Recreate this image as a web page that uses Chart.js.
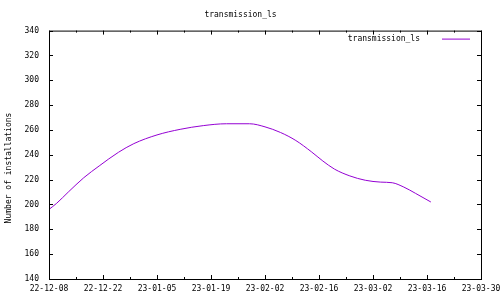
<!DOCTYPE html>
<html>
<head>
<meta charset="utf-8">
<script src="https://cdn.jsdelivr.net/npm/chart.js@4"></script>
<style>
  html, body { margin: 0; padding: 0; background: #fff; }
  #wrap { width: 500px; height: 300px; }
</style>
</head>
<body>
<div id="wrap"><canvas id="chart" width="500" height="300"></canvas></div>
<script>
// data
const dates = [
  "2022-12-08", "2022-12-10", "2022-12-13", "2022-12-17", "2022-12-21",
  "2022-12-26", "2022-12-30", "2023-01-05", "2023-01-11", "2023-01-17",
  "2023-01-23", "2023-01-29", "2023-02-02", "2023-02-06", "2023-02-10",
  "2023-02-14", "2023-02-17", "2023-02-20", "2023-02-24", "2023-02-28",
  "2023-03-04", "2023-03-07", "2023-03-10", "2023-03-13", "2023-03-17"
];
const installs = [
  196, 201, 210, 221.5, 231,
  242, 249, 256, 260.5, 263.5,
  265, 265, 262.5, 258, 251.5,
  242.5, 235, 228.5, 223, 219.5,
  218, 217.5, 214, 209, 202
];
const xTickLabels = [
  "22-12-08", "22-12-22", "23-01-05", "23-01-19", "23-02-02",
  "23-02-16", "23-03-02", "23-03-16", "23-03-30"
];
const yTicks = [140, 160, 180, 200, 220, 240, 260, 280, 300, 320, 340];

const seriesName = "transmission_ls";
const FONT = "'DejaVu Sans Mono', monospace";

const start = Date.UTC(2022, 11, 8);
function dayOf(s) {
  const p = s.split("-");
  return (Date.UTC(+p[0], +p[1] - 1, +p[2]) - start) / 86400000;
}

const points = dates.map((d, i) => ({ x: dayOf(d), y: installs[i] }));

// gnuplot style frame, inward ticks, legend and y label
const gnuplotBits = {
  id: "gnuplotBits",
  afterDraw(chart) {
    const ctx = chart.ctx;
    const a = chart.chartArea;
    const xs = chart.scales.x;
    const ys = chart.scales.y;
    ctx.save();
    ctx.strokeStyle = "#000";
    ctx.lineWidth = 1;
    ctx.strokeRect(a.left + 0.5, a.top + 0.5, a.right - a.left, a.bottom - a.top);

    ctx.beginPath();
    for (let d = 0; d <= 112; d += 7) {
      const px = Math.round(xs.getPixelForValue(d)) + 0.5;
      const len = d % 14 === 0 ? 4 : 2;
      ctx.moveTo(px, a.bottom);
      ctx.lineTo(px, a.bottom - len);
      ctx.moveTo(px, a.top);
      ctx.lineTo(px, a.top + len);
    }
    yTicks.forEach(v => {
      const py = Math.round(ys.getPixelForValue(v)) + 0.5;
      ctx.moveTo(a.left, py);
      ctx.lineTo(a.left + 4, py);
      ctx.moveTo(a.right, py);
      ctx.lineTo(a.right - 4, py);
    });
    ctx.stroke();

    // legend
    ctx.font = "8px " + FONT;
    ctx.fillStyle = "#000";
    ctx.textAlign = "right";
    ctx.textBaseline = "middle";
    ctx.fillText(chart.data.datasets[0].label, a.right - 61, a.top + 8);
    ctx.strokeStyle = "#9400d3";
    ctx.beginPath();
    ctx.moveTo(a.right - 39, a.top + 8.5);
    ctx.lineTo(a.right - 11, a.top + 8.5);
    ctx.stroke();

    // y axis title
    ctx.fillStyle = "#000";
    ctx.translate(9, 168);
    ctx.rotate(-Math.PI / 2);
    ctx.textAlign = "center";
    ctx.fillText("Number of installations", 0, 0);
    ctx.restore();
  }
};

new Chart(document.getElementById("chart"), {
  type: "line",
  data: {
    datasets: [{
      label: seriesName,
      data: points,
      borderColor: "#9400d3",
      borderWidth: 1,
      pointRadius: 0,
      fill: false,
      cubicInterpolationMode: "monotone"
    }]
  },
  options: {
    responsive: false,
    animation: false,
    layout: { padding: { left: 0, right: 19, top: 0, bottom: 0 } },
    plugins: {
      legend: { display: false },
      tooltip: { enabled: false },
      title: {
        display: true,
        text: seriesName,
        color: "#000",
        font: { family: FONT, size: 8, weight: "normal" },
        padding: { top: 10, bottom: 11 }
      }
    },
    scales: {
      x: {
        type: "linear",
        min: 0,
        max: 112,
        grid: { display: false, drawTicks: false },
        border: { display: false },
        afterBuildTicks(scale) {
          scale.ticks = xTickLabels.map((t, i) => ({ value: i * 14 }));
        },
        afterFit(scale) {
          scale.height = 21;
          scale.paddingLeft = 0;
          scale.paddingRight = 0;
        },
        ticks: {
          color: "#000",
          font: { family: FONT, size: 8 },
          padding: 5,
          maxRotation: 0,
          autoSkip: false,
          callback: (v) => xTickLabels[Math.round(v / 14)]
        }
      },
      y: {
        min: 140,
        max: 340,
        grid: { display: false, drawTicks: false },
        border: { display: false },
        afterBuildTicks(scale) {
          scale.ticks = yTicks.map(v => ({ value: v }));
        },
        afterFit(scale) {
          scale.width = 49;
          scale.paddingTop = 0;
          scale.paddingBottom = 0;
        },
        ticks: {
          color: "#000",
          font: { family: FONT, size: 8 },
          padding: 10
        }
      }
    }
  },
  plugins: [gnuplotBits]
});
</script>
</body>
</html>
